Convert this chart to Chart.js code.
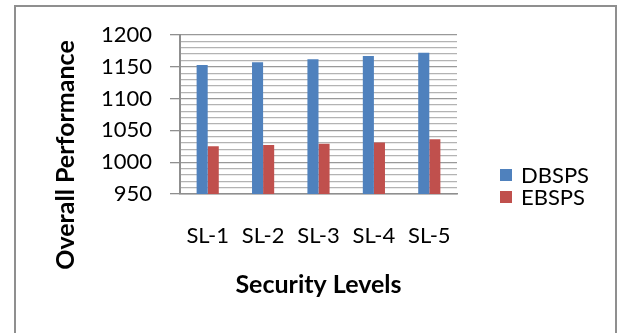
<!DOCTYPE html>
<html>
<head>
<meta charset="utf-8">
<script src="https://cdn.jsdelivr.net/npm/chart.js@4/dist/chart.umd.min.js"></script>
<style>
  html, body { margin: 0; padding: 0; background: #ffffff; }
  #wrap { width: 619px; height: 333px; position: relative; }
</style>
</head>
<body>
<div id="wrap"><canvas id="chart" width="619" height="333"></canvas></div>
<script>
// Security levels on the category axis
const levels = ['SL-1', 'SL-2', 'SL-3', 'SL-4', 'SL-5'];
// Overall performance per scheme
const dbsps = [1153, 1157, 1162, 1167, 1172];
const ebsps = [1025, 1027, 1029, 1031, 1036];
// Value axis range and labelled steps
const yMin = 950;
const yMax = 1200;
const yMinorStep = 10;
const yMajorStep = 50;

const FONT = 'Lato, "Open Sans", "DejaVu Sans", sans-serif';
const BLUE = '#4F81BD';
const RED = '#C0504D';

// Outer frame, y-axis title and the legend keys on the right
const frameAndLabels = {
  id: 'frameAndLabels',
  beforeDraw(chart) {
    const ctx = chart.ctx;
    ctx.save();
    ctx.fillStyle = '#ffffff';
    ctx.fillRect(0, 0, chart.width, chart.height);
    ctx.strokeStyle = '#8f8f8f';
    ctx.lineWidth = 2;
    ctx.strokeRect(15, 6, 601, 340);
    ctx.restore();
  },
  afterDraw(chart) {
    const ctx = chart.ctx;
    ctx.save();
    // rotated y-axis title
    ctx.translate(66, 155);
    ctx.rotate(-Math.PI / 2);
    ctx.font = 'bold 25px ' + FONT;
    ctx.fillStyle = '#000000';
    ctx.textAlign = 'center';
    ctx.textBaseline = 'middle';
    ctx.fillText('Overall Performance', 0, 0);
    ctx.restore();

    // legend entries
    ctx.save();
    ctx.font = '22px ' + FONT;
    ctx.textBaseline = 'middle';
    ctx.textAlign = 'left';
    const rows = [175, 197];
    chart.data.datasets.forEach((ds, i) => {
      const cy = rows[i];
      ctx.fillStyle = ds.backgroundColor;
      ctx.fillRect(500, cy - 6, 12, 12);
      ctx.fillStyle = '#000000';
      ctx.fillText(ds.label, 521, cy + 1);
    });
    ctx.restore();
  }
};

new Chart(document.getElementById('chart'), {
  type: 'bar',
  data: {
    labels: levels,
    datasets: [
      { label: 'DBSPS', data: dbsps, backgroundColor: BLUE, borderWidth: 0 },
      { label: 'EBSPS', data: ebsps, backgroundColor: RED, borderWidth: 0 }
    ]
  },
  options: {
    responsive: false,
    animation: false,
    layout: { padding: { top: 35, right: 162, bottom: 0, left: 0 } },
    datasets: { bar: { categoryPercentage: 0.4, barPercentage: 1.0 } },
    plugins: {
      legend: { display: false },
      tooltip: { enabled: false }
    },
    scales: {
      x: {
        grid: { drawOnChartArea: false, drawTicks: false },
        border: { display: true, color: '#8f8f8f', width: 1.5 },
        ticks: { color: '#000000', font: { family: FONT, size: 22 }, padding: 29, maxRotation: 0 },
        title: {
          display: true,
          text: 'Security Levels',
          color: '#000000',
          font: { family: FONT, size: 25, weight: 'bold' },
          padding: { top: 0, bottom: 33 }
        },
        afterFit(scale) { scale.height = 139; }
      },
      y: {
        min: yMin,
        max: yMax,
        grid: {
          color: (c) => (c.tick && c.tick.value % yMajorStep === 0) ? '#999999' : '#b3b3b3',
          lineWidth: 1.3,
          tickLength: 10,
          tickColor: (c) => (c.tick && c.tick.value % yMajorStep === 0) ? '#8f8f8f' : 'rgba(0,0,0,0)'
        },
        border: { display: true, color: '#8f8f8f', width: 2 },
        ticks: {
          stepSize: yMinorStep,
          autoSkip: false,
          padding: 18,
          color: '#000000',
          font: { family: FONT, size: 22 },
          callback: (v) => (v % yMajorStep === 0 ? String(v) : '')
        },
        afterFit(scale) { scale.width = 180; }
      }
    }
  },
  plugins: [frameAndLabels]
});
</script>
</body>
</html>
